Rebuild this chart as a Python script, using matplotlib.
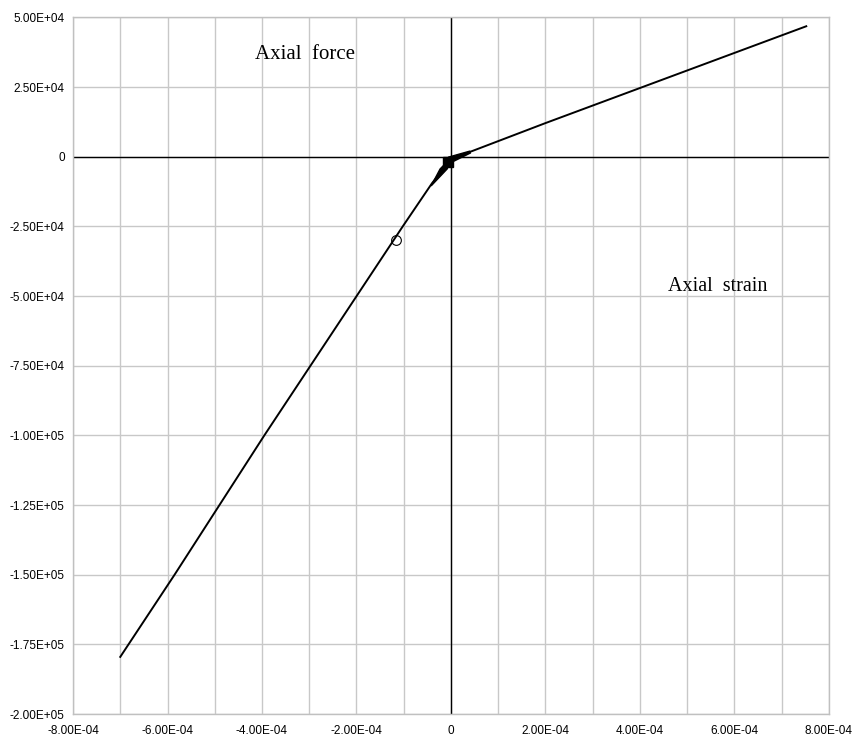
import matplotlib.pyplot as plt
from matplotlib.ticker import MultipleLocator, FuncFormatter

# main force-strain path
strain = [-7.0e-4, -5.85e-4, -4.9e-4, -3.95e-4, -1.02e-4, -4.0e-5, -5e-6,
          4.0e-5, 2.0e-4, 7.52e-4]
force = [-1.795e5, -1.5e5, -1.25e5, -1.0e5, -2.5e4, -9.5e3, -2.0e3,
         1.7e3, 1.205e4, 4.68e4]

# repeated cycles near the origin (drawn as thick wedges)
loop_neg_strain = [-4.2e-5, -2.3e-5, -1.2e-5, -3e-6, -8e-6]
loop_neg_force = [-1.05e4, -4.4e3, -2.5e3, -2.5e3, -4.4e3]
loop_pos_strain = [-6e-6, 4.0e-5, 4.1e-5, 4e-6]
loop_pos_force = [-200, 2.0e3, 1.3e3, -1.8e3]

# marked points
circle_strain, circle_force = [-1.16e-4], [-3.0e4]
square_strain, square_force = [-6e-6], [-2.0e3]


def sci(v, pos):
  if abs(v) < 1e-12:
    return "0"
  s = "%.2E" % v
  mant, ex = s.split("E")
  return mant + "E" + ex[0] + ex[1:].zfill(2)


fig = plt.figure(figsize=(8.59, 7.44), dpi=100)
ax = fig.add_axes([0.085, 0.0403, 0.88, 0.9364])

ax.set_xlim(-8e-4, 8e-4)
ax.set_ylim(-2e5, 5e4)
ax.xaxis.set_major_locator(MultipleLocator(2e-4))
ax.xaxis.set_minor_locator(MultipleLocator(1e-4))
ax.yaxis.set_major_locator(MultipleLocator(2.5e4))
ax.xaxis.set_major_formatter(FuncFormatter(sci))
ax.yaxis.set_major_formatter(FuncFormatter(sci))
ax.grid(True, which='both', color='#c8c8c8', linewidth=1.0)
ax.set_axisbelow(True)
ax.tick_params(which='both', length=0)
ax.tick_params(axis='y', pad=6)
ax.tick_params(axis='x', pad=8)
for lbl in ax.get_xticklabels() + ax.get_yticklabels():
  lbl.set_family('Liberation Sans')
  lbl.set_fontsize(8.5)
for sp in ax.spines.values():
  sp.set_color('#c0c0c0')
  sp.set_linewidth(1.0)

ax.axhline(0, color='black', linewidth=1.0, zorder=2)
ax.axvline(0, color='black', linewidth=1.0, zorder=2)

ax.plot(strain, force, color='black', linewidth=1.4, zorder=3)
ax.fill(loop_neg_strain, loop_neg_force, color='black', zorder=3)
ax.fill(loop_pos_strain, loop_pos_force, color='black', zorder=3)
ax.plot(circle_strain, circle_force, 'o', markersize=7, markerfacecolor='none',
        markeredgecolor='black', markeredgewidth=0.8, zorder=4)
ax.plot(square_strain, square_force, 's', markersize=7.5, color='black', zorder=4)

ax.text(0.241, 0.9397, "Axial  force", transform=ax.transAxes,
        family='Liberation Serif', fontsize=15, va='baseline', ha='left')
ax.text(0.787, 0.607, "Axial  strain", transform=ax.transAxes,
        family='Liberation Serif', fontsize=14.5, va='baseline', ha='left')

fig.savefig("out.png", dpi=100)
